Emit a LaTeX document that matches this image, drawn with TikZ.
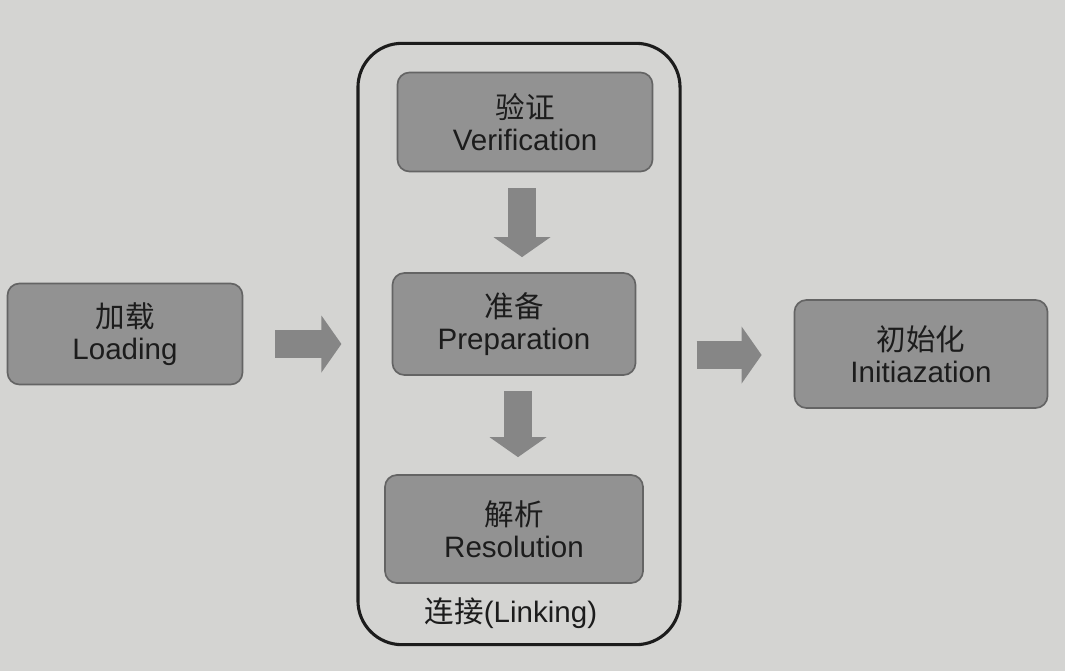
\documentclass[tikz,border=0pt]{standalone}
\usepackage{fontspec}
\setmainfont{Liberation Sans}
\newfontfamily\cjk{Noto Sans CJK SC}
\usepackage{xcolor}
\usepackage{tikz}
\usetikzlibrary{arrows.meta}

\definecolor{paper}{RGB}{212,212,210}
\definecolor{boxfill}{RGB}{146,146,146}
\definecolor{boxedge}{RGB}{100,100,100}
\definecolor{ink}{RGB}{28,28,28}

\tikzset{
    stage/.style={draw=boxedge,fill=boxfill,line width=1.2pt,rounded corners=0.3cm,
        align=center,text=ink,font=\fontsize{21}{23}\selectfont},
    fatarrow/.style={draw=boxfill!92!black,line width=0.68cm,
        -{Triangle[width=1.4cm,length=0.5cm]}},
}

\begin{document}
\begin{tikzpicture}[x=0.025cm,y=-0.025cm]
    \fill[paper] (0,0) rectangle (1065,671);
    \useasboundingbox (0,0) rectangle (1065,671);

    \node[draw=ink,line width=2.2pt,rounded corners=1.1cm,minimum width=8.05cm,minimum height=15.03cm] (link) at (519,344) {};
    \node[text=ink,font=\fontsize{21}{23}\selectfont] (linklabel) at (511,613) {{\cjk 连接}(Linking)};

    \node[stage,minimum width=5.875cm,minimum height=2.525cm] (load) at (125,334) {{\cjk 加载}\\Loading};
    \node[stage,minimum width=6.375cm,minimum height=2.475cm] (ver) at (525,122) {{\cjk 验证}\\Verification};
    \node[stage,minimum width=6.075cm,minimum height=2.55cm] (prep) at (514,324) {{\cjk 准备}\\Preparation};
    \node[stage,minimum width=6.45cm,minimum height=2.7cm] (res) at (514,529) {{\cjk 解析}\\Resolution};
    \node[stage,minimum width=6.325cm,minimum height=2.7cm] (init) at (921,354) {{\cjk 初始化}\\Initiazation};

    \draw[fatarrow,shorten <=0.8cm,shorten >=0.375cm] ([yshift=-0.25cm]load.east) -- ([yshift=-0.25cm]load.east -| link.west);
    \draw[fatarrow,shorten <=0.4cm,shorten >=0.375cm] ([xshift=-0.075cm]ver.south) -- ([xshift=-0.075cm]ver.south |- prep.north);
    \draw[fatarrow,shorten <=0.375cm,shorten >=0.425cm] ([xshift=0.1cm]prep.south) -- ([xshift=0.1cm]prep.south |- res.north);
    \draw[fatarrow,shorten <=0.375cm,shorten >=0.8cm] ([yshift=-0.275cm]link.east) -- ([yshift=-0.275cm]link.east -| init.west);
\end{tikzpicture}
\end{document}
